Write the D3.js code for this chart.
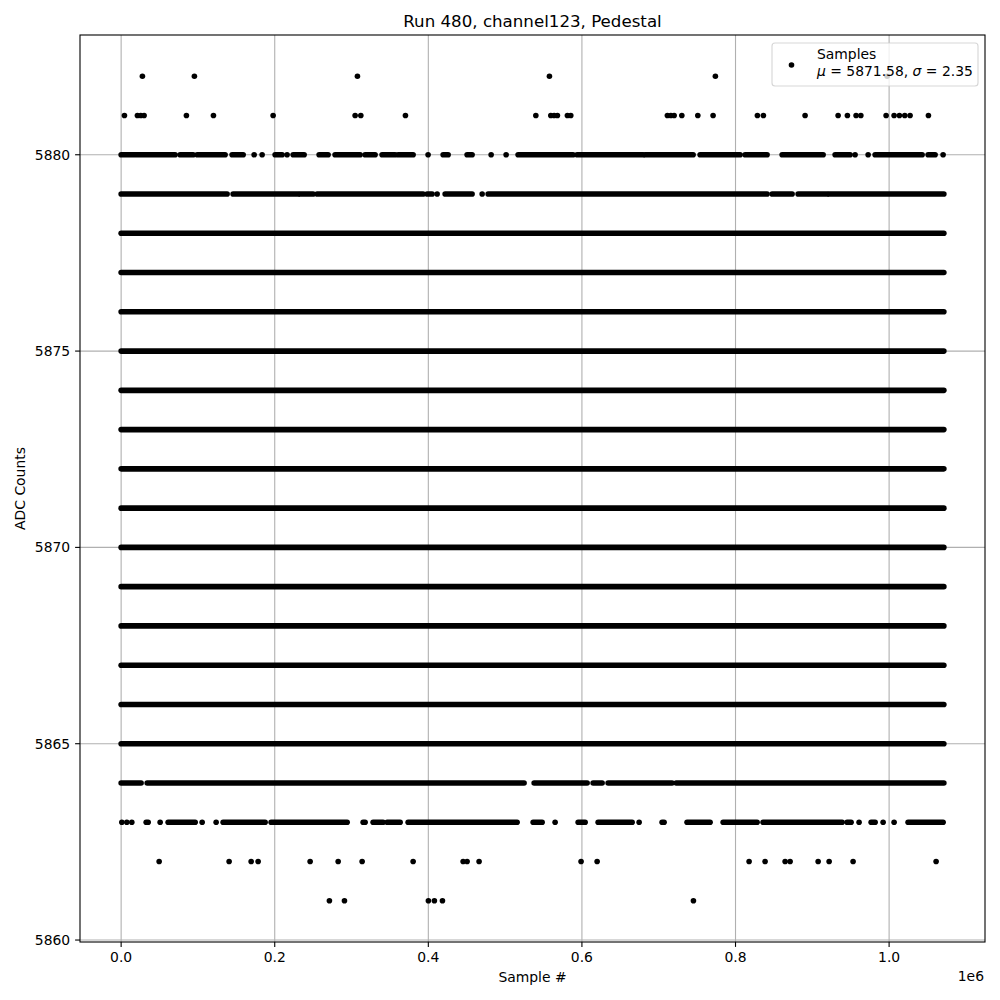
<!DOCTYPE html>
<html>
<head>
<meta charset="utf-8">
<script src="https://cdn.jsdelivr.net/npm/d3@7"></script>
<style>
  html, body { margin: 0; padding: 0; background: #fff; }
  svg { display: block; font-family: "DejaVu Sans", sans-serif; }
</style>
</head>
<body>
<svg id="chart" width="1000" height="1000"></svg>
<script>
// ---------------- DATA ----------------
const title = "Run 480, channel123, Pedestal";
const xLabel = "Sample #";
const yLabel = "ADC Counts";
const xTicks = [0, 200000, 400000, 600000, 800000, 1000000];
const xTickLabels = ["0.0", "0.2", "0.4", "0.6", "0.8", "1.0"];
const xOffsetText = "1e6";
const yTicks = [5860, 5865, 5870, 5875, 5880];
const yTickLabels = ["5860", "5865", "5870", "5875", "5880"];

// first / last sample index
const sampleRange = [0, 1071300];

// ADC levels that are filled over the whole sample range
const fullLevels = [5865, 5866, 5867, 5868, 5869, 5870, 5871, 5872, 5873, 5874, 5875, 5876, 5877, 5878];

// ADC levels that are filled over stretches: [first sample, last sample]
const level5880 = [[0,70300],[76800,93800],[99000,135400],[144500,158900],[173200,173200],[183600,183600],
  [200500,209600],[216100,216100],[224000,238300],[257800,269500],[278600,311200],[317700,330700],
  [339800,356800],[360700,380200],[399700,399700],[419300,425800],[450500,457000],[481800,481800],
  [501300,501300],[516900,588500],[593700,679700],[682300,744800],[753900,806000],[812500,841100],
  [860700,914100],[929700,949200],[955700,955700],[972700,972700],[981800,1043000],[1050800,1059900],
  [1070300,1070300]];
const level5879 = [[0,138000],[145800,230500],[233100,250000],[255200,393200],[398400,404900],
  [411500,411500],[421900,457000],[470100,470100],[477900,841100],[847700,873700],[881500,919300],
  [921900,1071300]];
const level5864 = [[0,26000],[33900,524700],[537800,606800],[614600,626300],[634100,717400],[722700,1071300]];
const level5863 = [[900,900],[7400,7400],[13900,13900],[32600,35200],[50800,50800],[61200,96400],
  [105500,105500],[123700,123700],[132800,187500],[195300,294300],[315100,317700],[328100,341100],
  [346400,363300],[373700,515600],[536500,548200],[565100,565100],[595100,604200],[621100,665400],
  [674500,674500],[704400,707000],[736900,766900],[783900,828100],[835900,938800],[945300,950500],
  [960900,960900],[976600,981800],[992200,992200],[1006500,1006500],[1024700,1070300]];

// ADC levels with isolated samples
const level5882 = [27700, 95400, 307700, 557700, 773800, 997400];
const level5881 = [4300, 21200, 25600, 29900, 85000, 120200, 197900, 304700, 312100, 370200, 540000,
  559500, 563800, 568100, 581100, 585500, 711300, 715800, 720100, 730100, 750900, 770800, 828500,
  836300, 890600, 933600, 945700, 957000, 963200, 996100, 1006500, 1013400, 1020400, 1027300, 1051200];
const level5862 = [49500, 140600, 169300, 178400, 246100, 282600, 313800, 380200, 445300, 450500,
  466100, 598900, 619800, 817700, 838500, 864600, 871100, 907600, 921900, 953100, 1061200];
const level5861 = [271200, 290800, 400100, 407900, 418400, 745200];

const legendLabel = "Samples";
const legendMu = "5871.58";
const legendSigma = "2.35";

// ---------------- BUILD ----------------
const segments = [];
fullLevels.forEach(v => segments.push({y: v, x0: sampleRange[0], x1: sampleRange[1]}));
[[5880, level5880], [5879, level5879], [5864, level5864], [5863, level5863]].forEach(([v, arr]) =>
  arr.forEach(([a, b]) => segments.push({y: v, x0: a, x1: b})));
const points = [];
[[5882, level5882], [5881, level5881], [5862, level5862], [5861, level5861]].forEach(([v, arr]) =>
  arr.forEach(x => points.push({x: x, y: v})));

const allX = segments.flatMap(s => [s.x0, s.x1]).concat(points.map(p => p.x));
const allY = segments.map(s => s.y).concat(points.map(p => p.y));
const [xmin, xmax] = d3.extent(allX);
const [ymin, ymax] = d3.extent(allY);
const xm = (xmax - xmin) * 0.05, ym = (ymax - ymin) * 0.05;

const L = 80, R = 985, T = 35, B = 942;
const x = d3.scaleLinear().domain([xmin - xm, xmax + xm]).range([L, R]);
const y = d3.scaleLinear().domain([ymin - ym, ymax + ym]).range([B, T]);

const svg = d3.select("#chart");
const r = 2.8;
const fs = 13.9;

// grid
const grid = svg.append("g");
grid.selectAll("line.gx").data(xTicks).join("line")
  .attr("x1", d => x(d)).attr("x2", d => x(d)).attr("y1", T).attr("y2", B)
  .attr("stroke", "#b0b0b0").attr("stroke-width", 1.1);
grid.selectAll("line.gy").data(yTicks).join("line")
  .attr("y1", d => y(d)).attr("y2", d => y(d)).attr("x1", L).attr("x2", R)
  .attr("stroke", "#b0b0b0").attr("stroke-width", 1.1);

// marks
const plot = svg.append("g");
plot.selectAll("line.seg").data(segments.filter(s => s.x1 > s.x0)).join("line")
  .attr("x1", d => x(d.x0)).attr("x2", d => x(d.x1))
  .attr("y1", d => y(d.y)).attr("y2", d => y(d.y))
  .attr("stroke", "#000").attr("stroke-width", 2 * r).attr("stroke-linecap", "round");
plot.selectAll("circle.seg").data(segments.filter(s => s.x1 <= s.x0)).join("circle")
  .attr("cx", d => x(d.x0)).attr("cy", d => y(d.y)).attr("r", r).attr("fill", "#000");
plot.selectAll("circle.pt").data(points).join("circle")
  .attr("cx", d => x(d.x)).attr("cy", d => y(d.y)).attr("r", r).attr("fill", "#000");

// spines
svg.append("rect").attr("x", L).attr("y", T).attr("width", R - L).attr("height", B - T)
  .attr("fill", "none").attr("stroke", "#000").attr("stroke-width", 1.1);

// ticks
const tl = 4.9;
svg.append("g").selectAll("line").data(xTicks).join("line")
  .attr("x1", d => x(d)).attr("x2", d => x(d)).attr("y1", B).attr("y2", B + tl)
  .attr("stroke", "#000").attr("stroke-width", 1.1);
svg.append("g").selectAll("text").data(xTicks).join("text")
  .attr("x", d => x(d)).attr("y", B + tl + 4.9 + 10.6)
  .attr("text-anchor", "middle").attr("font-size", fs).attr("fill", "#000")
  .text((d, i) => xTickLabels[i]);
svg.append("g").selectAll("line").data(yTicks).join("line")
  .attr("y1", d => y(d)).attr("y2", d => y(d)).attr("x1", L - tl).attr("x2", L)
  .attr("stroke", "#000").attr("stroke-width", 1.1);
svg.append("g").selectAll("text").data(yTicks).join("text")
  .attr("x", L - tl - 4.9).attr("y", d => y(d) + 5)
  .attr("text-anchor", "end").attr("font-size", fs).attr("fill", "#000")
  .text((d, i) => yTickLabels[i]);

svg.append("text").attr("x", R - 1).attr("y", 981).attr("text-anchor", "end")
  .attr("font-size", fs).text(xOffsetText);

// labels
svg.append("text").attr("x", (L + R) / 2).attr("y", 27).attr("text-anchor", "middle")
  .attr("font-size", 16.67).text(title);
svg.append("text").attr("x", (L + R) / 2).attr("y", 982).attr("text-anchor", "middle")
  .attr("font-size", fs).text(xLabel);
svg.append("text").attr("transform", `translate(25,${(T + B) / 2}) rotate(-90)`)
  .attr("text-anchor", "middle").attr("font-size", fs).text(yLabel);

// legend
const lg = svg.append("g");
lg.append("rect").attr("x", 772).attr("y", 43).attr("width", 206).attr("height", 43)
  .attr("rx", 3).attr("fill", "#fff").attr("fill-opacity", 0.8)
  .attr("stroke", "#cccccc").attr("stroke-opacity", 0.8).attr("stroke-width", 1.1);
lg.append("circle").attr("cx", 791.5).attr("cy", 65).attr("r", r).attr("fill", "#000");
lg.append("text").attr("x", 817).attr("y", 59).attr("font-size", fs).text(legendLabel);
const t2 = lg.append("text").attr("x", 817).attr("y", 76).attr("font-size", fs);
t2.append("tspan").attr("font-style", "italic").text("μ");
t2.append("tspan").text(` = ${legendMu}, `);
t2.append("tspan").attr("font-style", "italic").text("σ");
t2.append("tspan").text(` = ${legendSigma}`);
</script>
</body>
</html>
